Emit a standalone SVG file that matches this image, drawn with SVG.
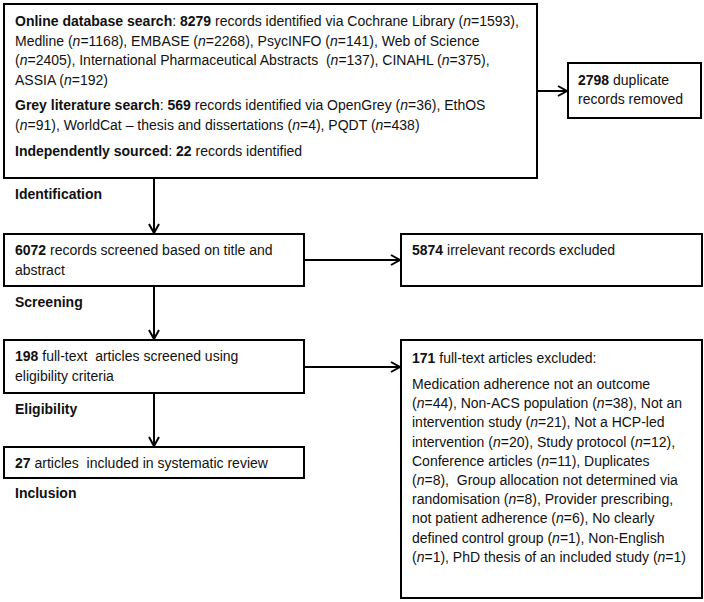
<svg xmlns="http://www.w3.org/2000/svg" width="704" height="602" viewBox="0 0 704 602">
<style>
.box{fill:#fff;stroke:#000;stroke-width:2}
.t{font-family:"Liberation Sans",Arial,sans-serif;font-size:14px;fill:#111}
.b{font-weight:bold}
.i{font-style:italic}
.c{fill:none;stroke:#000;stroke-width:2}
</style>
<defs>
<marker id="ah" viewBox="0 0 12 12" refX="10" refY="6" markerWidth="12" markerHeight="12" markerUnits="userSpaceOnUse" orient="auto">
<path d="M1,1 L10,6 L1,11" fill="none" stroke="#000" stroke-width="2"/>
</marker>
</defs>
<rect width="704" height="602" fill="#fff"/>

<g id="connectors">
<line class="c" x1="537" y1="91" x2="567" y2="91" marker-end="url(#ah)"/>
<line class="c" x1="154" y1="178" x2="154" y2="233" marker-end="url(#ah)"/>
<line class="c" x1="304" y1="260" x2="400" y2="260" marker-end="url(#ah)"/>
<line class="c" x1="154" y1="286" x2="154" y2="339" marker-end="url(#ah)"/>
<line class="c" x1="304" y1="367" x2="400" y2="367" marker-end="url(#ah)"/>
<line class="c" x1="154" y1="393" x2="154" y2="446" marker-end="url(#ah)"/>
</g>

<g id="identification">
<rect class="box" x="4" y="4" width="533" height="174"/>
<text class="t" x="15" y="26"><tspan class="b">Online database search</tspan>: <tspan class="b">8279</tspan> records identified via Cochrane Library (<tspan class="i">n</tspan>=1593),</text>
<text class="t" x="15" y="45.5">Medline (<tspan class="i">n</tspan>=1168), EMBASE (<tspan class="i">n</tspan>=2268), PsycINFO (<tspan class="i">n</tspan>=141), Web of Science</text>
<text class="t" x="15" y="65" xml:space="preserve">(<tspan class="i">n</tspan>=2405), International Pharmaceutical Abstracts  (<tspan class="i">n</tspan>=137), CINAHL (<tspan class="i">n</tspan>=375),</text>
<text class="t" x="15" y="84.5">ASSIA (<tspan class="i">n</tspan>=192)</text>
<text class="t" x="15" y="110"><tspan class="b">Grey literature search</tspan>: <tspan class="b">569</tspan> records identified via OpenGrey (<tspan class="i">n</tspan>=36), EthOS</text>
<text class="t" x="15" y="129.5">(<tspan class="i">n</tspan>=91), WorldCat – thesis and dissertations (<tspan class="i">n</tspan>=4), PQDT (<tspan class="i">n</tspan>=438)</text>
<text class="t" x="15" y="156"><tspan class="b">Independently sourced</tspan>: <tspan class="b">22</tspan> records identified</text>
</g>

<g id="duplicates">
<rect class="box" x="568" y="63" width="133" height="55"/>
<text class="t" x="578" y="85"><tspan class="b">2798</tspan> duplicate</text>
<text class="t" x="578" y="104">records removed</text>
</g>

<g id="screened">
<rect class="box" x="4" y="234" width="300" height="52"/>
<text class="t" x="15" y="255"><tspan class="b">6072</tspan> records screened based on title and</text>
<text class="t" x="15" y="275">abstract</text>
</g>

<g id="irrelevant">
<rect class="box" x="401" y="234" width="301" height="52"/>
<text class="t" x="412" y="255"><tspan class="b">5874</tspan> irrelevant records excluded</text>
</g>

<g id="fulltext">
<rect class="box" x="4" y="340" width="300" height="53"/>
<text class="t" x="15" y="361" xml:space="preserve"><tspan class="b">198</tspan> full-text  articles screened using</text>
<text class="t" x="15" y="381">eligibility criteria</text>
</g>

<g id="excluded">
<rect class="box" x="401" y="340" width="301" height="258"/>
<text class="t" x="412" y="363"><tspan class="b">171</tspan> full-text articles excluded:</text>
<text class="t" x="412" y="389">Medication adherence not an outcome</text>
<text class="t" x="412" y="408.2">(<tspan class="i">n</tspan>=44), Non-ACS population (<tspan class="i">n</tspan>=38), Not an</text>
<text class="t" x="412" y="427.4">intervention study (<tspan class="i">n</tspan>=21), Not a HCP-led</text>
<text class="t" x="412" y="446.6">intervention (<tspan class="i">n</tspan>=20), Study protocol (<tspan class="i">n</tspan>=12),</text>
<text class="t" x="412" y="465.8">Conference articles (<tspan class="i">n</tspan>=11), Duplicates</text>
<text class="t" x="412" y="485" xml:space="preserve">(<tspan class="i">n</tspan>=8),  Group allocation not determined via</text>
<text class="t" x="412" y="504.2">randomisation (<tspan class="i">n</tspan>=8), Provider prescribing,</text>
<text class="t" x="412" y="523.4">not patient adherence (<tspan class="i">n</tspan>=6), No clearly</text>
<text class="t" x="412" y="542.6">defined control group (<tspan class="i">n</tspan>=1), Non-English</text>
<text class="t" x="412" y="561.8">(<tspan class="i">n</tspan>=1), PhD thesis of an included study (<tspan class="i">n</tspan>=1)</text>
</g>

<g id="included">
<rect class="box" x="4" y="447" width="300" height="31"/>
<text class="t" x="15" y="467.5" xml:space="preserve"><tspan class="b">27</tspan> articles  included in systematic review</text>
</g>

<g id="stage-labels">
<text class="t b" x="15" y="199">Identification</text>
<text class="t b" x="15" y="307">Screening</text>
<text class="t b" x="15" y="414">Eligibility</text>
<text class="t b" x="15" y="498">Inclusion</text>
</g>
</svg>
